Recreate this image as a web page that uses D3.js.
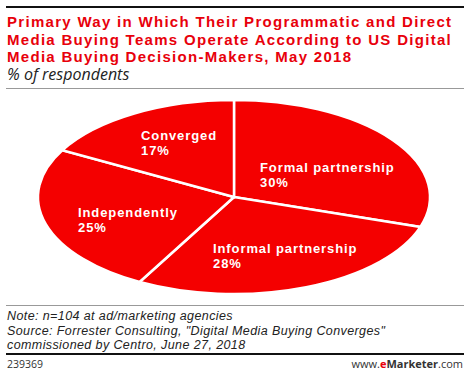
<!DOCTYPE html>
<html lang="en">
<head>
<meta charset="UTF-8">
<title>Programmatic and direct media buying teams</title>
<script src="https://d3js.org/d3.v7.min.js"></script>
<style>
  body { margin: 0; background: #fff; }
  svg text { font-family: "Open Sans", "Noto Sans", sans-serif; }
  svg text.stack { font-family: "Liberation Sans", Arial, sans-serif; }
</style>
</head>
<body>
<svg width="470" height="376"></svg>
<script>
const categories = ["Formal partnership", "Informal partnership", "Independently", "Converged"];
const values = [30, 28, 25, 17];
const labelPos = [[260, 172], [213, 253], [78, 217], [141, 140]];

const titleLines = [
  "Primary Way in Which Their Programmatic and Direct",
  "Media Buying Teams Operate According to US Digital",
  "Media Buying Decision-Makers, May 2018"
];
const noteLines = [
  "Note: n=104 at ad/marketing agencies",
  "Source: Forrester Consulting, \"Digital Media Buying Converges\"",
  "commissioned by Centro, June 27, 2018"
];

const svg = d3.select("svg");

// header
svg.append("rect").attr("x", 6).attr("y", 6).attr("width", 458).attr("height", 2).attr("fill", "#111");
svg.selectAll(".title").data(titleLines).enter().append("text")
  .attr("class", "stack")
  .attr("x", 7).attr("y", (d, i) => 27 + i * 17.5)
  .attr("font-size", 15).attr("font-weight", 700).attr("letter-spacing", 1.3).attr("fill", "#e8000b")
  .text(d => d);
svg.append("text").attr("x", 7).attr("y", 80)
  .attr("font-size", 16).attr("font-style", "italic").attr("fill", "#222")
  .text("% of respondents");
svg.append("rect").attr("x", 6).attr("y", 88).attr("width", 458).attr("height", 1).attr("fill", "#999");

// squashed pie
const cx = 234, cy = 197, rx = 196, ry = 97;
const pie = d3.pie().sort(null).value(d => d)(values);
const arc = d3.arc().innerRadius(0).outerRadius(rx);

const g = svg.append("g").attr("transform", `translate(${cx},${cy}) scale(1,${ry / rx})`);
g.selectAll("path").data(pie).enter().append("path")
  .attr("d", arc)
  .attr("fill", "#f40000")
  .attr("stroke", "#fff")
  .attr("stroke-width", 2.5)
  .attr("vector-effect", "non-scaling-stroke");

const labels = svg.selectAll(".lbl").data(pie).enter().append("text")
  .attr("class", "stack")
  .attr("font-size", 13).attr("font-weight", 700).attr("letter-spacing", 0.9).attr("fill", "#fff");
labels.append("tspan").attr("x", (d, i) => labelPos[i][0]).attr("y", (d, i) => labelPos[i][1])
  .text((d, i) => categories[i]);
labels.append("tspan").attr("x", (d, i) => labelPos[i][0]).attr("y", (d, i) => labelPos[i][1] + 15)
  .text(d => d.data + "%");

// footer
svg.append("rect").attr("x", 6).attr("y", 305).attr("width", 458).attr("height", 1).attr("fill", "#999");
svg.selectAll(".note").data(noteLines).enter().append("text")
  .attr("class", "stack")
  .attr("x", 7).attr("y", (d, i) => 320 + i * 14.5)
  .attr("font-size", 12.5).attr("font-style", "italic").attr("letter-spacing", 0.4).attr("fill", "#222")
  .text(d => d);
svg.append("rect").attr("x", 6).attr("y", 353).attr("width", 458).attr("height", 2).attr("fill", "#111");
svg.append("text").attr("x", 7).attr("y", 368).attr("font-size", 10.5).attr("fill", "#333").text("239369");
const brand = svg.append("text").attr("x", 463).attr("y", 368).attr("text-anchor", "end")
  .attr("font-size", 11).attr("fill", "#333");
brand.append("tspan").text("www.");
brand.append("tspan").attr("fill", "#e8000b").attr("font-weight", 700).text("e");
brand.append("tspan").attr("font-weight", 700).text("Marketer");
brand.append("tspan").text(".com");
</script>
</body>
</html>
